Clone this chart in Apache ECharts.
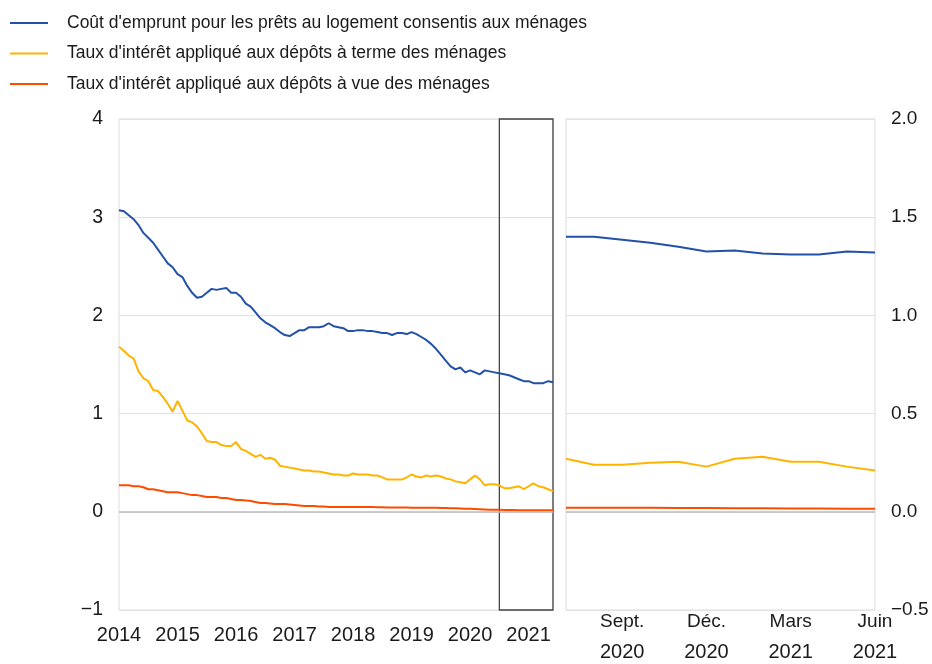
<!DOCTYPE html>
<html><head><meta charset="utf-8">
<script src="https://cdn.jsdelivr.net/npm/echarts@6/dist/echarts.min.js"></script>
<style>html,body{margin:0;padding:0;background:#fff}#c{width:932px;height:664px}</style>
</head><body><div id="c"></div>
<script>
const seriesNames = [
  "Coût d'emprunt pour les prêts au logement consentis aux ménages",
  "Taux d'intérêt appliqué aux dépôts à terme des ménages",
  "Taux d'intérêt appliqué aux dépôts à vue des ménages"
];
const colors = ['#2350a8', '#ffb400', '#ff4b00'];

// Left panel: monthly, Jan 2014 – Jun 2021
const months = [];
for (let y = 2014; y <= 2021; y++) {
  for (let m = 1; m <= 12; m++) {
    if (y === 2021 && m > 6) break;
    months.push(y + '-' + (m < 10 ? '0' + m : m));
  }
}
const blueLeft = [3.07,3.06,3.02,2.98,2.92,2.84,2.79,2.74,2.67,2.60,2.53,2.49,
  2.42,2.39,2.30,2.23,2.18,2.19,2.23,2.27,2.26,2.27,2.28,2.23,
  2.23,2.19,2.12,2.09,2.03,1.97,1.93,1.90,1.87,1.83,1.80,1.79,
  1.82,1.85,1.85,1.88,1.88,1.88,1.89,1.92,1.89,1.88,1.87,1.84,
  1.84,1.85,1.85,1.84,1.84,1.83,1.82,1.82,1.80,1.82,1.82,1.81,
  1.83,1.81,1.78,1.75,1.71,1.66,1.60,1.54,1.48,1.45,1.47,1.42,
  1.44,1.42,1.40,1.44,1.43,1.42,1.41,1.40,1.39,1.37,1.35,1.33,
  1.33,1.31,1.31,1.31,1.33,1.32];
const yellowLeft = [1.68,1.64,1.59,1.56,1.43,1.36,1.33,1.24,1.23,1.17,1.10,1.02,
  1.13,1.03,0.93,0.91,0.87,0.80,0.72,0.71,0.71,0.68,0.67,0.67,
  0.71,0.64,0.62,0.59,0.56,0.58,0.54,0.55,0.53,0.47,0.46,0.45,
  0.44,0.43,0.42,0.42,0.41,0.41,0.40,0.39,0.38,0.38,0.37,0.37,
  0.39,0.38,0.38,0.38,0.37,0.37,0.35,0.33,0.33,0.33,0.33,0.35,
  0.38,0.36,0.35,0.37,0.36,0.37,0.36,0.34,0.33,0.31,0.30,0.29,
  0.33,0.37,0.33,0.27,0.28,0.28,0.27,0.24,0.24,0.25,0.26,0.23,
  0.26,0.29,0.26,0.25,0.23,0.21];
const redLeft = [0.27,0.27,0.27,0.26,0.26,0.25,0.23,0.23,0.22,0.21,0.20,0.20,
  0.20,0.19,0.18,0.17,0.17,0.16,0.15,0.15,0.15,0.14,0.14,0.13,
  0.12,0.12,0.115,0.11,0.10,0.09,0.09,0.085,0.08,0.08,0.08,0.075,
  0.07,0.065,0.06,0.06,0.06,0.055,0.055,0.05,0.05,0.05,0.05,0.05,
  0.05,0.05,0.05,0.048,0.048,0.047,0.046,0.045,0.045,0.045,0.044,0.043,
  0.042,0.042,0.041,0.040,0.040,0.040,0.039,0.038,0.037,0.036,0.034,0.032,
  0.030,0.028,0.026,0.024,0.022,0.021,0.020,0.019,0.018,0.018,0.017,0.017,
  0.016,0.016,0.015,0.015,0.015,0.015];
const leftYTicks = { min: -1, max: 4, interval: 1 };
const zoomRange = ['2020-07', '2021-06'];

// Right panel: Jul 2020 – Jun 2021
const zoomMonths = ['2020-07','2020-08','2020-09','2020-10','2020-11','2020-12',
  '2021-01','2021-02','2021-03','2021-04','2021-05','2021-06'];
const zoomTickMonth = ['', '', 'Sept.', '', '', 'Déc.', '', '', 'Mars', '', '', 'Juin'];
const zoomTickYear  = ['', '', '2020', '', '', '2020', '', '', '2021', '', '', '2021'];
const blueZoom = [1.40,1.40,1.385,1.37,1.35,1.325,1.33,1.315,1.31,1.31,1.325,1.32];
const yellowZoom = [0.27,0.24,0.24,0.25,0.255,0.23,0.27,0.28,0.255,0.255,0.23,0.21];
const redZoom = [0.02,0.02,0.02,0.02,0.019,0.019,0.018,0.018,0.017,0.017,0.016,0.016];
const rightYTicks = { min: -0.5, max: 2, interval: 0.5 };

const FONT = "'Liberation Sans', Arial, sans-serif";
const TXT = '#1a1a1a';
const GRIDC = '#e2e2e2';
const zeroLine = {
  silent: true, symbol: 'none', label: { show: false },
  lineStyle: { color: '#bdbdbd', width: 1.5, type: 'solid' },
  data: [{ yAxis: 0 }]
};

const chart = echarts.init(document.getElementById('c'), null, { renderer: 'canvas' });
const mkLine = (name, data, color, xi, yi, extra) => Object.assign({
  name, type: 'line', data, xAxisIndex: xi, yAxisIndex: yi,
  symbol: 'none', smooth: false, animation: false,
  lineStyle: { color, width: 2 }, itemStyle: { color }
}, extra || {});

chart.setOption({
  animation: false,
  textStyle: { fontFamily: FONT },
  legend: {
    orient: 'vertical', left: 10, top: 14, padding: 0,
    itemWidth: 38, itemHeight: 2, itemGap: 12.5,
    textStyle: { fontFamily: FONT, fontSize: 17.5, lineHeight: 18, color: TXT, padding: [0, 0, 0, 14] },
    data: seriesNames.map((n, i) => ({ name: n, icon: 'rect', itemStyle: { color: colors[i] } })),
    selectedMode: false
  },
  grid: [
    { left: 119, top: 119, width: 434, height: 491, show: true, borderColor: '#dcdcdc', borderWidth: 1, containLabel: false },
    { left: 566, top: 119, width: 309, height: 491, show: true, borderColor: '#dcdcdc', borderWidth: 1, containLabel: false }
  ],
  xAxis: [
    { type: 'category', gridIndex: 0, data: months, boundaryGap: false, position: 'bottom',
      axisLine: { show: false, onZero: false }, axisTick: { show: false }, splitLine: { show: false },
      axisLabel: { interval: (i) => i % 12 === 0, formatter: (v) => v.slice(0, 4),
        fontSize: 20, color: TXT, fontFamily: FONT, margin: 15 } },
    { type: 'category', gridIndex: 1, data: zoomMonths, boundaryGap: false, position: 'bottom',
      axisLine: { show: false, onZero: false }, axisTick: { show: false }, splitLine: { show: false },
      axisLabel: { interval: 0, formatter: (v, i) => zoomTickMonth[i],
        fontSize: 19, color: TXT, fontFamily: FONT, margin: 2 } },
    { type: 'category', gridIndex: 1, data: zoomMonths, boundaryGap: false, position: 'bottom',
      axisLine: { show: false, onZero: false }, axisTick: { show: false }, splitLine: { show: false },
      axisLabel: { interval: 0, formatter: (v, i) => zoomTickYear[i],
        fontSize: 20, color: TXT, fontFamily: FONT, margin: 32 } }
  ],
  yAxis: [
    { type: 'value', gridIndex: 0, position: 'left', min: leftYTicks.min, max: leftYTicks.max, interval: leftYTicks.interval,
      axisLine: { show: false }, axisTick: { show: false },
      splitLine: { show: true, lineStyle: { color: GRIDC, width: 1 } },
      axisLabel: { fontSize: 19.5, color: TXT, fontFamily: FONT, margin: 16,
        formatter: (v) => String(v).replace('-', '\u2212') } },
    { type: 'value', gridIndex: 1, position: 'right', min: rightYTicks.min, max: rightYTicks.max, interval: rightYTicks.interval,
      axisLine: { show: false }, axisTick: { show: false },
      splitLine: { show: true, lineStyle: { color: GRIDC, width: 1 } },
      axisLabel: { fontSize: 19, color: TXT, fontFamily: FONT, margin: 16,
        formatter: (v) => v.toFixed(1).replace('-', '\u2212') } }
  ],
  series: [
    mkLine(seriesNames[0], blueLeft, colors[0], 0, 0, {
      markArea: { silent: true, itemStyle: { color: 'rgba(0,0,0,0)', borderColor: '#444', borderWidth: 1.3 },
        data: [[{ xAxis: zoomRange[0], yAxis: leftYTicks.max }, { xAxis: zoomRange[1], yAxis: leftYTicks.min }]] }
    }),
    mkLine(seriesNames[1], yellowLeft, colors[1], 0, 0),
    mkLine(seriesNames[2], redLeft, colors[2], 0, 0, { markLine: zeroLine, z: 3 }),
    mkLine(seriesNames[0], blueZoom, colors[0], 1, 1),
    mkLine(seriesNames[1], yellowZoom, colors[1], 1, 1),
    mkLine(seriesNames[2], redZoom, colors[2], 1, 1, { markLine: zeroLine, z: 3 })
  ]
});
</script></body></html>
